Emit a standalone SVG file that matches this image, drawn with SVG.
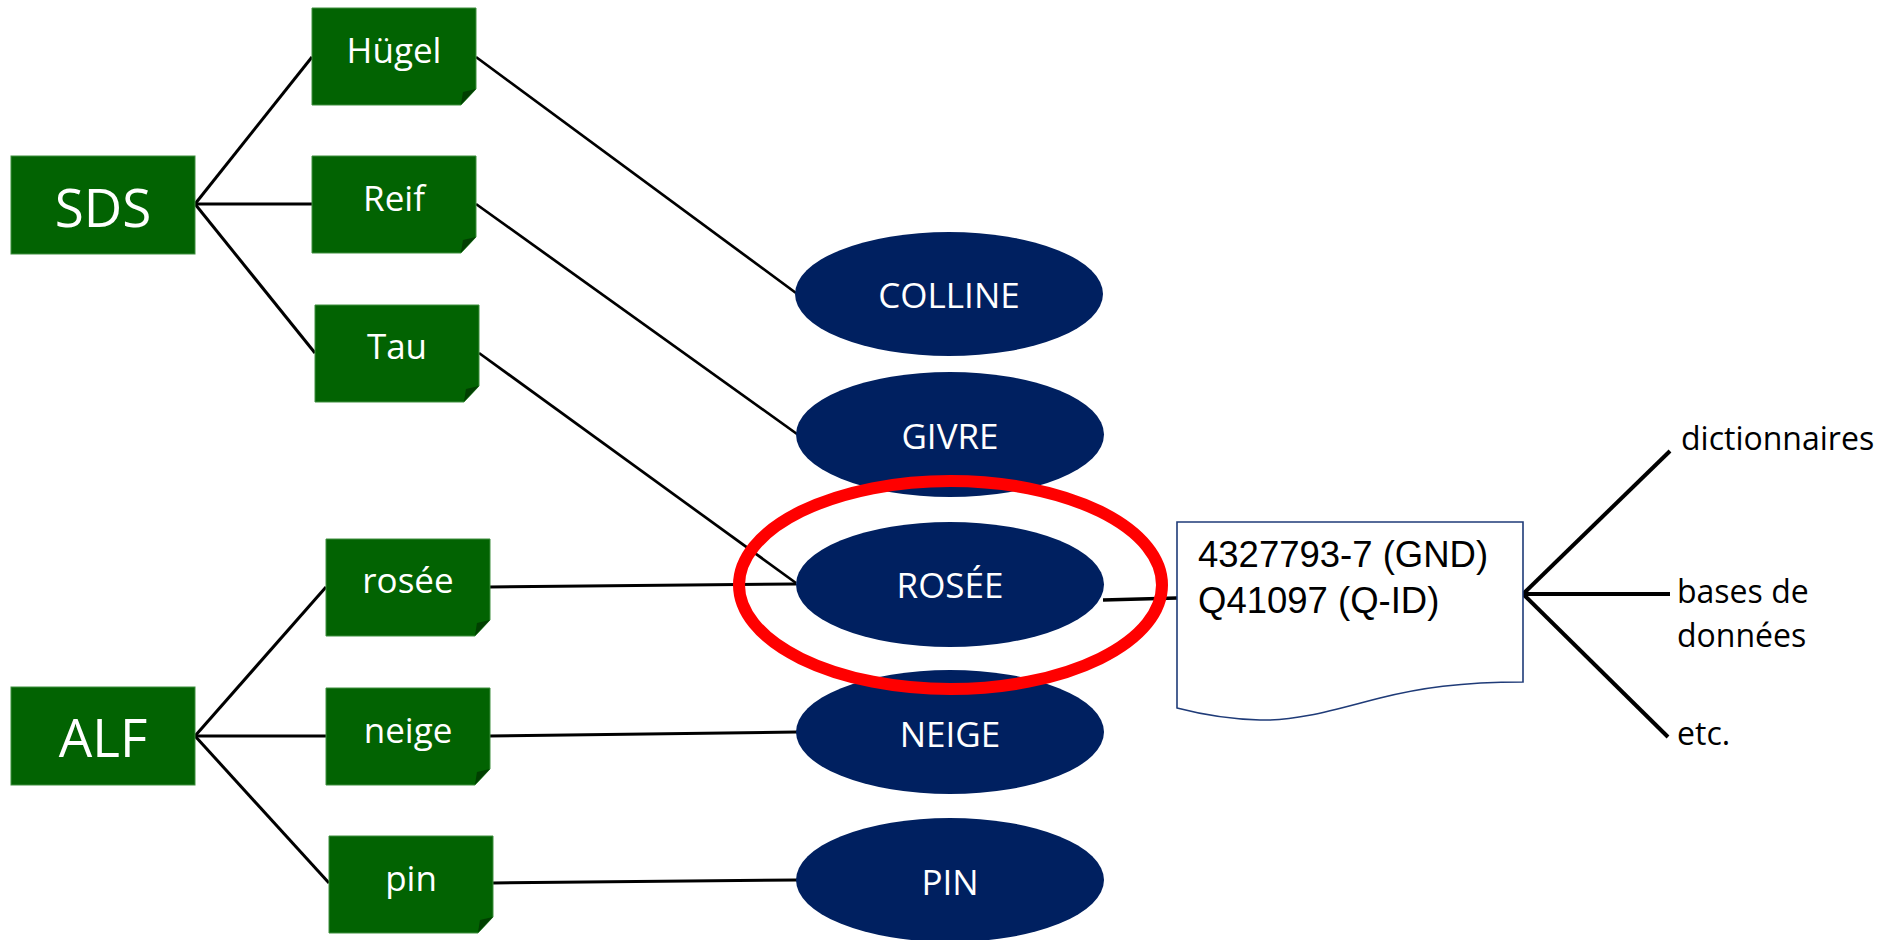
<svg xmlns="http://www.w3.org/2000/svg" xmlns:xlink="http://www.w3.org/1999/xlink" width="1885" height="940" viewBox="0 0 1885 940">
  <style>
    .src { fill: #026302; stroke: #3f8f3f; stroke-width: 1; }
    .fold { fill: #013f01; }
    .lbl { font-family: "Open Sans", "Liberation Sans", sans-serif; fill: #ffffff; text-anchor: middle; }
    .big { font-size: 53px; }
    .word { font-size: 35px; }
    .concept { fill: #002060; }
    .link { stroke: #000000; fill: none; stroke-linecap: butt; }
    .thin { stroke-width: 2.7; }
    .mid { stroke-width: 3; }
    .thick { stroke-width: 4; }
    .ext { font-family: "Open Sans", "Liberation Sans", sans-serif; font-size: 32px; fill: #000000; }
    .ids { font-family: "Liberation Sans", Arial, sans-serif; font-size: 36.5px; fill: #000000; }
  </style>
  <defs>
    <!-- green label card with a folded bottom-right corner -->
    <g id="card">
      <path class="src" d="M0,0 H164 V81 L149,97 H0 Z"/>
      <path class="fold" d="M149,96.5 L151,84 L164,81 Z"/>
    </g>
  </defs>

  <rect width="1885" height="940" fill="#ffffff"/>

  <!-- connectors -->
  <g id="connectors">
    <line class="link mid" x1="195" y1="204" x2="312" y2="57"/>
    <line class="link mid" x1="195" y1="204" x2="312" y2="204"/>
    <line class="link mid" x1="195" y1="204" x2="315" y2="353"/>
    <line class="link mid" x1="195" y1="736" x2="326" y2="587"/>
    <line class="link mid" x1="195" y1="736" x2="326" y2="736"/>
    <line class="link mid" x1="195" y1="736" x2="329" y2="883"/>
    <line class="link thin" x1="476" y1="57" x2="796" y2="293"/>
    <line class="link thin" x1="476" y1="204" x2="797" y2="434"/>
    <line class="link thin" x1="479" y1="353" x2="796" y2="583"/>
    <line class="link mid" x1="489" y1="587" x2="796" y2="584"/>
    <line class="link mid" x1="489" y1="736" x2="797" y2="732"/>
    <line class="link mid" x1="493" y1="883" x2="797" y2="880"/>
    <line class="link" stroke-width="3.5" x1="1103" y1="600" x2="1177" y2="598"/>
    <line class="link thick" x1="1523" y1="594" x2="1670" y2="451"/>
    <line class="link thick" x1="1523" y1="594" x2="1670" y2="594"/>
    <line class="link thick" x1="1523" y1="594" x2="1668" y2="737"/>
  </g>

  <!-- sources -->
  <g id="sds">
    <rect class="src" x="11" y="156" width="184" height="98"/>
    <text class="lbl big" x="103" y="227">SDS</text>
  </g>
  <g id="alf">
    <rect class="src" x="11" y="687" width="184" height="98"/>
    <text class="lbl big" x="103" y="757">ALF</text>
  </g>

  <!-- dialect words -->
  <g id="huegel">
    <use xlink:href="#card" x="312" y="8"/>
    <text class="lbl word" x="394" y="63">Hügel</text>
  </g>
  <g id="reif">
    <use xlink:href="#card" x="312" y="156"/>
    <text class="lbl word" x="394" y="211">Reif</text>
  </g>
  <g id="tau">
    <use xlink:href="#card" x="315" y="305"/>
    <text class="lbl word" x="397" y="359">Tau</text>
  </g>
  <g id="rosee-word">
    <use xlink:href="#card" x="326" y="539"/>
    <text class="lbl word" x="408" y="593">rosée</text>
  </g>
  <g id="neige-word">
    <use xlink:href="#card" x="326" y="688"/>
    <text class="lbl word" x="408" y="743">neige</text>
  </g>
  <g id="pin-word">
    <use xlink:href="#card" x="329" y="836"/>
    <text class="lbl word" x="411" y="891">pin</text>
  </g>

  <!-- concepts -->
  <g id="colline">
    <ellipse class="concept" cx="949" cy="294" rx="154" ry="62"/>
    <text class="lbl word" x="949" y="308">COLLINE</text>
  </g>
  <g id="givre">
    <ellipse class="concept" cx="950" cy="434.5" rx="154" ry="62.5"/>
    <text class="lbl word" x="950" y="449">GIVRE</text>
  </g>
  <g id="rosee">
    <ellipse class="concept" cx="950" cy="584.5" rx="154" ry="62.5"/>
    <text class="lbl word" x="950" y="598">ROSÉE</text>
  </g>
  <g id="neige">
    <ellipse class="concept" cx="950" cy="732" rx="154" ry="62"/>
    <text class="lbl word" x="950" y="747">NEIGE</text>
  </g>
  <g id="pin">
    <ellipse class="concept" cx="950" cy="880" rx="154" ry="62"/>
    <text class="lbl word" x="950" y="895">PIN</text>
  </g>

  <!-- authority identifiers document -->
  <g id="identifiers">
    <path d="M1177,522 H1523 V682 C1460,682 1420,688 1380,698 C1340,708 1300,721 1260,720 C1225,719 1200,714 1177,708 Z" fill="#ffffff" stroke="#1f3b78" stroke-width="1.6"/>
    <text class="ids" x="1198" y="567">4327793-7 (GND)</text>
    <text class="ids" x="1198" y="613">Q41097 (Q-ID)</text>
  </g>

  <!-- external resources -->
  <g id="dictionnaires">
    <text class="ext" x="1681" y="450">dictionnaires</text>
  </g>
  <g id="bases">
    <text class="ext" x="1677" y="603">bases de</text>
    <text class="ext" x="1677" y="647">données</text>
  </g>
  <g id="etc">
    <text class="ext" x="1677" y="745">etc.</text>
  </g>

  <!-- highlight ring -->
  <g id="highlight">
    <ellipse cx="950.5" cy="585" rx="211.5" ry="104" fill="none" stroke="#ff0000" stroke-width="12"/>
  </g>
</svg>
